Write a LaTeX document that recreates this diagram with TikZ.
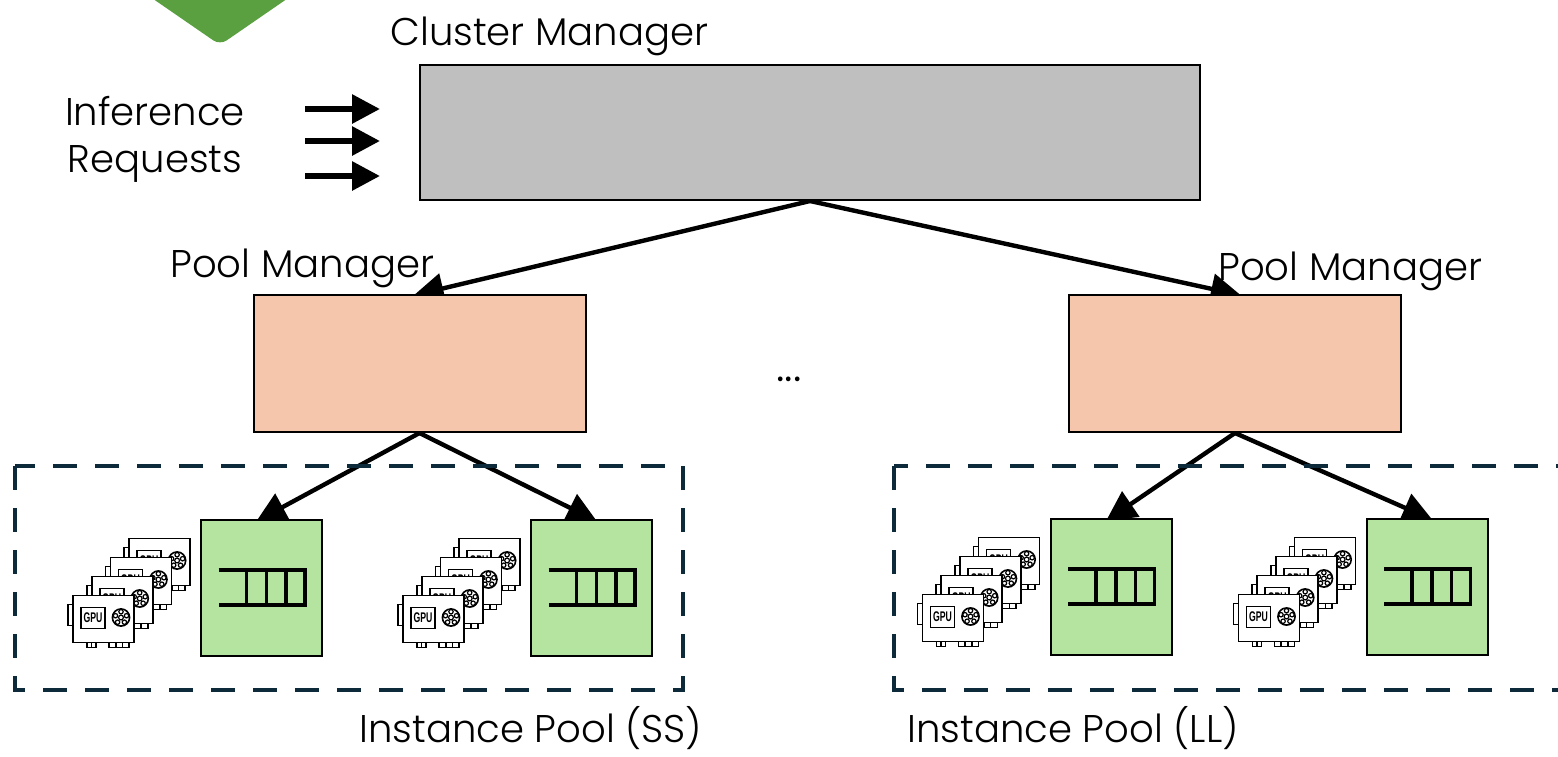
\documentclass[tikz,border=0pt]{standalone}
\usepackage{fontspec}
\setmainfont{Poppins}[UprightFont=* Light]
\newfontfamily\gpufont{Liberation Sans}
\usetikzlibrary{arrows.meta,backgrounds}

\definecolor{clustergray}{HTML}{BFBFBF}
\definecolor{poolpink}{HTML}{F5C6AB}
\definecolor{queuegreen}{HTML}{B4E4A0}
\definecolor{framenavy}{HTML}{0D2A3A}
\definecolor{leafgreen}{HTML}{5AA040}

\tikzset{
  box/.style={draw, line width=1pt, inner sep=0pt},
  clusterbox/.style={box, fill=clustergray, minimum width=390pt, minimum height=67.5pt},
  poolbox/.style={box, fill=poolpink, minimum width=166pt, minimum height=68.5pt},
  queuebox/.style={box, fill=queuegreen, minimum width=60.5pt, minimum height=68pt},
  heading/.style={font=\fontsize{19.3}{23.5}\selectfont, inner sep=0pt},
  link/.style={-{Triangle[length=15pt,width=15pt]}, line width=2.2pt, shorten >=-3pt},
  request/.style={-{Triangle[length=14pt,width=14pt]}, line width=3pt},
  poolframe/.style={draw=framenavy, line width=2.4pt, dash pattern=on 12pt off 9pt},
  queueline/.style={line width=1.6pt},
  card/.style={draw, fill=white, line width=0.8pt},
  gpulabel/.style={font=\gpufont\bfseries\fontsize{7}{7}\selectfont, inner sep=0pt},
}

% one graphics card, top left corner at (#1,#2)
\newcommand{\gpucard}[2]{%
  \begin{scope}[shift={(#1,#2)}]
    \draw[card] (-5,9) rectangle (0,30);
    \foreach \p in {14,18.5} \draw[card] (\p,47) rectangle ++(4.5,5);
    \foreach \p in {36,42.7,49.4} \draw[card] (\p,47) rectangle ++(6.7,5);
    \draw[card] (0,0) rectangle (61,47);
    \draw[card] (8,12) rectangle (32,33);
    \node[gpulabel] at (20,22.5) {\scalebox{0.62}[1]{GPU}};
    \draw[card] (48,22) circle[radius=4.3pt];
    \draw[line width=0.6pt] (48,22) circle[radius=1.2pt];
    \foreach \a in {90,162,...,378}
      \draw[line width=0.6pt] (48,22) ++(\a:2.9pt) circle[radius=1.1pt];
  \end{scope}}

\begin{document}
\begin{tikzpicture}[x=0.5pt, y=-0.5pt]
\useasboundingbox (0,0) rectangle (1558,756);

% corner leaf
\fill[leafgreen, rounded corners=4pt] (130,-17) -- (220,45) -- (310,-17) -- cycle;

% managers
\node[clusterbox] (cluster) at (810,132.5) {};
\node[heading, anchor=base west] (clustername) at (390,45) {Cluster Manager};
\node[poolbox] (poolss) at (419.5,363.5) {};
\node[poolbox] (poolll) at (1235,363.5) {};
\node[heading, anchor=base west] (poolssname) at (170,277) {Pool Manager};
\node[heading, anchor=base west] (poolllname) at (1218,280) {Pool Manager};
\node[heading, anchor=base, font=\fontsize{23}{23}\selectfont] (dots) at (789,381) {...};

% incoming requests
\node[heading, align=center] (requests) at (155,139) {Inference\\Requests};
\foreach \y [count=\i] in {109,141,176} {
  \coordinate (from\i) at (305,\y);
  \coordinate (to\i) at (380,\y);
  \draw[request] (from\i) -- (to\i);
}

% instance pools
\draw[poolframe] (15,466) rectangle (683,690);
\draw[poolframe] (894,466) rectangle (1580,690);
\node[heading, anchor=base west] (ssname) at (359,742) {Instance Pool (SS)};
\node[heading, anchor=base west] (llname) at (907,742) {Instance Pool (LL)};

\node[queuebox] (ss1) at (261.5,587.5) {};
\node[queuebox] (ss2) at (591.5,587.5) {};
\node[queuebox] (ll1) at (1111,586.5) {};
\node[queuebox] (ll2) at (1427,586.5) {};

% queue symbol in each instance, gpu stack beside it
\foreach \q in {ss1,ss2,ll1,ll2} {
  \begin{scope}[shift={(\q)}]
    \draw[queueline] (-43,-17.5) -- (43.5,-17.5) -- (43.5,17.5) -- (-43,17.5);
    \foreach \v in {-15,5,24.5} \draw[queueline] (\v,-17.5) -- (\v,17.5);
  \end{scope}
  \begin{scope}[shift={(\q.west)}]
    \foreach \k in {3,2,1,0} \gpucard{-127+18.7*\k}{8-19*\k};
  \end{scope}
}

% links
\begin{scope}[on background layer]
  \draw[link] (cluster.south) -- (poolss.north);
  \draw[link] (cluster.south) -- (poolll.north);
  \draw[link] (poolss.south) -- (ss1.north);
  \draw[link] (poolss.south) -- (ss2.north);
  \draw[link] (poolll.south) -- (ll1.north);
  \draw[link] (poolll.south) -- (ll2.north);
\end{scope}
\end{tikzpicture}
\end{document}
